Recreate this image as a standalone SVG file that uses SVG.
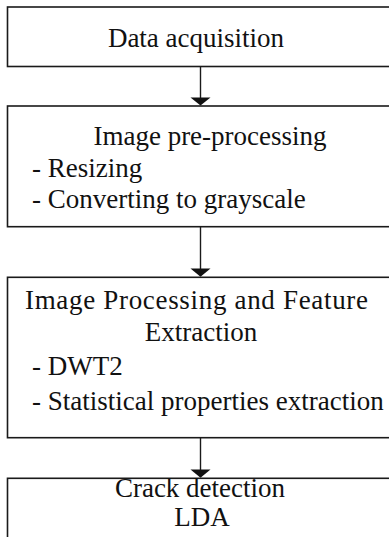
<svg xmlns="http://www.w3.org/2000/svg" width="389" height="537" viewBox="0 0 389 537">
<defs>
<style>
.box{fill:#fff;stroke:#1a1a1a;stroke-width:1.6}
.t{font-family:"Liberation Serif","Times New Roman",serif;font-size:27px;fill:#111}
.c{text-anchor:middle}
.conn{stroke:#1a1a1a;stroke-width:1.4;fill:none}
.head{fill:#111}
</style>
</defs>
<rect width="389" height="537" fill="#fff"/>
<g id="n1">
<rect class="box" x="7.5" y="7" width="400" height="59.5"/>
<text class="t c" x="196" y="47">Data acquisition</text>
</g>
<g id="n2">
<rect class="box" x="7.5" y="106" width="400" height="120.7"/>
<text class="t c" x="210" y="145">Image pre-processing</text>
<text class="t" x="32" y="176.5">- Resizing</text>
<text class="t" x="32" y="208">- Converting to grayscale</text>
</g>
<g id="n3">
<rect class="box" x="7.5" y="277.3" width="400" height="160.4"/>
<text class="t" x="25" y="309" textLength="343" lengthAdjust="spacing">Image Processing and Feature</text>
<text class="t c" x="201" y="341">Extraction</text>
<text class="t" x="32" y="375">- DWT2</text>
<text class="t" x="32" y="410">- Statistical properties extraction</text>
</g>
<g id="n4">
<rect class="box" x="7.5" y="478.3" width="400" height="80"/>
<text class="t c" x="200" y="497">Crack detection</text>
<text class="t c" x="202" y="526">LDA</text>
</g>
<g id="connectors">
<line class="conn" x1="200.5" y1="66.5" x2="200.5" y2="98"/>
<polygon class="head" points="190.5,97.5 210.5,97.5 200.5,105.5"/>
<line class="conn" x1="200.5" y1="226.7" x2="200.5" y2="269"/>
<polygon class="head" points="190.5,268.5 210.5,268.5 200.5,276.8"/>
<line class="conn" x1="200.5" y1="437.7" x2="200.5" y2="470"/>
<polygon class="head" points="190.5,469.5 210.5,469.5 200.5,477.8"/>
</g>
</svg>
